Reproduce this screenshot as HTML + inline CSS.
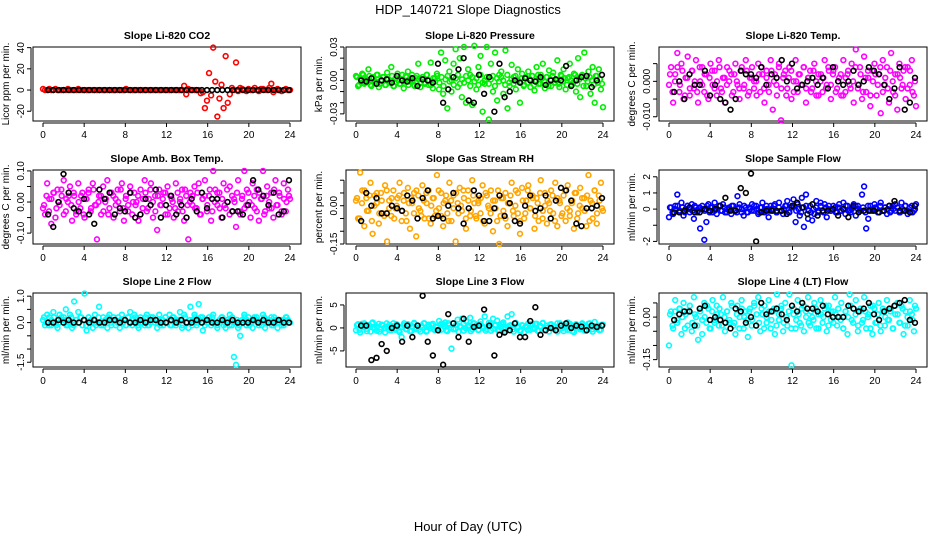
<!DOCTYPE html>
<html><head><meta charset="utf-8"><style>
body{margin:0;background:#fff}
svg{display:block;font-family:"Liberation Sans",sans-serif}
</style></head><body>
<svg id="c" width="936" height="540" viewBox="0 0 936 540">
<text x="468" y="14" text-anchor="middle" font-size="13">HDP_140721  Slope Diagnostics</text>
<text x="468" y="531" text-anchor="middle" font-size="13">Hour of Day (UTC)</text>
</svg>
<script>
const titles=["Slope Li-820 CO2","Slope Li-820 Pressure","Slope Li-820 Temp.","Slope Amb. Box Temp.","Slope Gas Stream RH","Slope Sample Flow","Slope Line 2 Flow","Slope Line 3 Flow","Slope Line 4 (LT) Flow"];
const yTitles=["Licor ppm per min.","kPa per min.","degrees C per min.","degrees C per min.","percent per min.","ml/min per min.","ml/min per min.","ml/min per min.","ml/min per min."];
const colors=["#ff0000","#00ee00","#ff00ff","#ff00ff","#ffa500","#0000ff","#00ffff","#00ffff","#00ffff"];
const xTicks=[0,4,8,12,16,20,24];
const c1=[1,0,0,1,0,0,1,0,0,0,0,0,1,0,0,0,0,1,0,0,0,0,0,0,0,0,0,0,0,0,0,0,0,0,0,0,0,0,0,0,1,0,0,0,0,0,0,0,0,0,0,0,0,0,0,0,0,0,0,0,0,0,0,0,0,0,0,0,4,-4,1,0,0,0,0,0,-3,-2,-17,-10,16,-5,40,8,-25,-8,5,-17,32,-12,-4,2,0,26,-1,2,1,0,-1,1,0,0,2,0,-1,1,1,0,0,2,6,-2,0,1,0,-1,0,1,0,0];
const b1=[0,0,0,0,0,0,0,0,0,0,0,0,0,0,0,0,0,0,0,0,0,0,0,0,0,0,0,0,0,0,0,0,0,0,0,0,0,0,0,0,0,0,0,0,0,0,0,0];
const k1=[];
const c2=[4,-5,2,6,-3,1,10,-4,3,-2,5,-6,0,3,-4,7,-2,12,-5,2,6,-3,1,-7,4,8,-1,5,-4,2,15,-6,3,-2,5,-4,16,-7,2,6,-8,25,-12,18,-25,8,-10,15,28,-6,20,-15,30,-20,10,5,-22,31,-8,12,22,-28,-3,30,-35,15,-10,25,-18,5,8,-12,27,-25,-5,14,3,-8,10,-20,6,-4,2,8,-6,4,-9,12,-3,5,15,-7,3,9,-5,7,-2,18,-6,4,10,-8,2,15,-4,6,-10,20,-15,5,25,-5,8,-12,12,-20,4,10,-8,-24];
const b2=[0,-1,2,-3,0,1,-2,4,0,-1,2,-5,1,0,-2,15,-20,-8,3,10,20,-18,-20,5,-12,3,-28,15,-15,-10,0,-2,2,0,-1,3,-4,0,1,0,13,-5,0,3,4,-6,0,5];
const k2=[3,-4,1,5,-2,0,4,-5,2,-1,5,-3,0,3,-4,1,-2,4,-5,2,0,-3,5,-1,3,-4,2,0,-5,4,1,-2,3,-3,5,0,-4,2,-1,4,-2,3,-5,1,4,-1,0,-4,2,5,-3,1,-2,4,0,-5,3,-1,2,-4,5,-2,0,3,-3,1,4,-5,2,-1,3,0,-4,5,-2,1,-3,4,0,-1,2,-5,3,-2,1,4,-4,0,5,-3,2,-1,3,-5,1,4,-2,0,-3,5,-1,2,-4,3,0,-2,5,-3,1,4,-5,2,-1,3,0,-4,4,-2,1,-3];
const c3=[-1,4,-6,2,8,-3,5,-5,1,7,-4,3,-2,6,-6,0,4,-3,2,-5,5,-1,3,-4,6,-2,1,-6,4,0,2,-3,5,-1,-5,3,-2,6,-4,1,4,-2,0,5,-3,2,-6,3,-1,6,-8,2,-4,5,-11,1,3,-2,4,-5,0,6,-3,2,-1,4,-6,1,3,-2,5,-4,2,0,-3,6,-1,3,-5,2,4,-2,1,-4,6,-3,2,-1,5,-6,9,-2,4,-5,7,-3,1,-7,3,5,-4,2,-9,6,-1,4,-6,8,-3,2,-8,5,-2,3,-5,4,-1,6,-4,-7];
const b3=[-3,0,-5,2,-1,-1,3,-4,-1,-5,-6,-8,-5,3,2,2,1,4,-1,2,1,6,0,5,-2,-1,0,1,-1,1,-2,4,0,-1,0,3,-1,0,4,3,2,-1,-5,-2,4,-8,-6,1];
const k3=[2,-3,0,4,-1,3,-4,1,-2,3,0,-3,4,-1,2,-4,1,3,-2,0,4,-3,1,-1,3,-4,2,0,-2,4,-1,3,-3,1,0,-4,2,4,-2,1,-3,3,0,-1,4,-2,2,-4,1,3,-3,0,2,-1,4,-2,1,-3,3,0,-4,2,1,-2,4,-1,3,-3,0,2,-4,1,3,-2,0,4,-1,2,-3,1,3,-4,0,2,-1,4,-3,1,-2,3,0,-4,2,1,-1,4,-2,3,-3,0];
const c4=[-2,-4,6,1,-7,3,-5,4,-1,2,7,-3,0,5,-6,2,-4,6,-2,3,-5,1,4,-3,6,-1,-12,2,-4,5,0,7,-2,3,-5,1,4,-3,6,-6,2,-1,5,-4,3,0,-6,4,-2,7,-3,1,6,-5,2,-9,4,-1,3,-4,5,-2,1,-5,6,-3,0,4,-6,2,-12,3,-1,5,-2,6,-4,1,7,-3,2,-6,10,4,-1,3,-5,6,-2,0,5,-3,1,-8,7,-4,2,10,-1,3,-5,6,-2,4,-6,1,10,-3,5,-2,3,-5,7,-1,2,-4,6,-3,4,1];
const b4=[-4,-8,0,9,3,-2,-3,1,-4,-7,4,1,3,-4,-2,-3,3,-5,-4,1,-1,4,-5,-1,2,-4,-1,-5,1,-3,3,-2,1,1,-5,0,-3,-3,-4,-1,7,4,2,-1,3,-4,-3,7];
const k4=[-1,2,-3,1,3,-2,0,4,-4,1,2,-1,3,-3,0,2,-4,1,3,-2,4,-1,0,2,-3,1,-4,3,2,-1,0,4,-2,1,-3,3,0,-1,2,-4,1,3,-2,4,0,-3,2,-1,1,3,-4,2,0,-2,3,1,-3,4,-1,0,2,-2,3,-4,1,2,-1,4,-3,0,3,-2,1,-1,4,-4,2,0,3,-3,1,-2,4,0,-1,2,-3,3,1,-4,2,0,-2,4,-1,3,-3,1,0,2];
const c5=[2,-5,13,6,-8,3,-2,9,-11,4,1,-7,5,-3,8,-14,2,-4,6,-1,3,9,-6,2,-3,7,-9,1,5,-12,4,-2,8,-5,1,6,-7,3,-4,12,-1,5,-8,2,-3,9,-6,4,-14,1,7,-2,3,-9,6,-4,10,1,-5,2,-3,8,-7,4,-1,6,-10,2,-6,-15,3,-2,5,-8,1,9,-4,6,-3,-11,7,-5,2,8,-1,4,-9,3,-6,10,-2,5,-7,1,6,-3,9,-8,2,-4,4,-6,8,-2,1,-9,5,-3,7,-1,3,-8,12,2,-5,6,-7,4,9,-2];
const b5=[-6,5,0,3,-3,-3,0,-1,-2,4,2,-5,3,6,-5,-4,-5,0,5,-1,-7,-1,6,4,-6,-6,-1,4,-4,1,-6,-7,0,4,-2,-1,4,-5,2,7,6,2,-7,-8,-1,-1,0,3];
const k5=[3,-5,1,6,-2,4,-6,0,5,-3,2,-4,6,-1,3,-5,0,4,-2,5,-6,1,3,-3,6,-1,-4,2,5,-5,0,3,-2,6,-4,1,4,-6,2,-1,5,-3,0,6,-5,2,-2,4,-4,1,3,-6,5,0,-3,2,-1,6,-4,3,-5,1,4,-2,0,5,-6,2,-3,6,-1,3,-4,1,5,-5,0,2,-2,4,-6,3,1,-3,6,-1,-4,2,5,-5,0,3,-2,4,-6,1,6,-3,2,-1];
const c6=[-5,1,-3,2,9,-1,4,-4,0,2,-2,3,-6,1,-1,-12,2,-19,-8,3,1,-2,4,-3,2,-1,3,-2,0,1,-3,2,-1,8,3,-2,-4,1,-2,0,3,-1,2,-3,1,4,-2,0,-5,2,-1,3,-2,4,-1,-3,2,5,-2,1,6,-8,3,-4,7,-11,9,-6,2,-7,-3,5,-2,4,-1,3,-5,2,-1,0,1,-2,3,-1,4,-3,2,-1,0,3,-4,2,-1,9,14,-12,-6,2,-1,3,0,-2,4,-1,1,-3,2,-1,0,3,1,-2,4,-1,2,-3,1,2,-1,3];
const b6=[-2,-2,-1,1,-2,-2,0,-1,0,2,7,-1,-1,13,10,22,-20,-2,-1,-1,-1,-1,-3,2,4,1,-3,3,-4,-1,-1,0,-4,0,-5,2,-2,-1,-1,-1,-2,-1,2,5,-1,-1,-2,2];
const k6=[1,-2,0,2,-1,1,-2,2,0,-1,2,-2,1,0,-1,2,-2,1,-1,0,2,-1,1,-2,0,2,-1,-2,1,0,2,-2,1,-1,2,0,-2,1,-1,2,-1,0,2,-2,1,-1,0,2,-2,1,2,-1,0,-2,1,2,-1,-2,0,1,-1,2,-2,1,0,-1,2,-2,1,-1,0,2,-1,-2,1,2,0,-1,1,-2,2,-1,0,1,-2,2,-1,1,0,-2,2,-1,1,-2,0,2,-1,1,-2,0];
const c7=[1,-1,3,2,-1,4,0,-2,3,1,2,5,-1,3,-2,8,1,4,2,-1,11,-3,2,1,-2,3,0,6,-1,2,1,-2,3,-1,2,1,0,-2,3,1,-1,2,4,-1,3,1,-2,2,0,-1,3,-1,2,1,0,-2,3,1,-1,2,0,3,-1,2,-1,1,4,-2,3,0,-2,6,1,3,-1,7,2,-3,1,0,2,-1,3,0,-2,1,2,-1,-2,1,3,-1,-13,-16,-2,-5,1,3,-1,2,0,-2,1,2,-1,0,3,-2,1,0,2,-1,1,-2,0,1,-1,2,1,0];
const b7=[0,0,1,0,1,0,0,1,0,1,0,0,1,1,0,1,0,0,1,0,1,1,0,0,1,0,1,0,0,1,0,1,0,0,1,0,1,0,0,0,1,0,1,0,0,1,0,0];
const k7=[2,0,-1,1,2,-1,0,2,1,-1,0,2,-1,1,0,2,1,-1,2,0,1,-1,2,0,-1,1,2,0,1,-1,2,1,0,-1,2,0,1,2,-1,0,1,2,-1,0,2,1,0,-1,1,2,0,-1,2,1,0,1,-1,2,0,1,-1,2,0,1,2,-1,0,1,2,0,-1,1,2,0,1,-1,2,0,1,-1,0,2,1,-1,0,2,1,0,-1,2,0,1,-1,2,1,0,-1,1,2,0];
const c8=[-0.5,0.8,-1,0.3,1,-0.2,0.6,-0.8,1.2,0,-0.6,0.9,-0.3,0.5,-1,0.2,0.7,-0.5,1,-0.4,0.3,-0.9,-2,0.6,-0.2,0.8,-0.7,0.4,1.1,-0.3,0.5,-0.8,0.2,1,-0.6,0.7,-0.1,0.9,-0.5,0.3,1.5,-0.4,0.8,1.2,-0.7,0.6,-4.5,1,-0.2,1.8,0.4,2,-0.6,1.5,0.2,2.2,-0.3,1,0.6,-0.5,1.4,0.3,2.5,-0.2,1.1,-0.6,2,0.5,1.6,-0.4,0.8,1.2,-0.3,2.5,0.5,3,-0.8,1.1,0.2,-0.5,0.6,-0.9,0.3,1,-0.4,0.7,-0.2,0.9,-0.6,0.4,1.1,-0.3,0.5,-0.8,0.8,0.2,-0.5,1,-0.1,0.6,-0.7,0.3,1.2,-0.4,0.5,-0.9,0.8,0.1,-0.3,1,0.4,-0.6,0.9,0.2,-0.8,1.3,-0.2,0.5,-0.4,0.7];
const b8=[0.5,0.5,-7,-6.5,-3.5,-5,0,0.5,-3,0.5,-2,0.5,7,-3,-6,-0.5,-8,3,1,-2,2,-3,0.2,0.5,4,0.5,-6,-1.5,-1,-0.5,1,-2,-2,1.5,4.5,-1.5,-0.5,0,-0.5,0.5,1,0,0.5,0.3,-0.5,0.5,0.2,0.5];
const k8=[0.6,-0.4,0.9,0.1,-0.7,0.5,1,-0.2,0.3,-0.8,0.7,0,1,-0.5,0.4,-0.1,0.8,-0.6,0.2,1,-0.3,0.6,-0.7,0.9,0,-0.4,0.5,1,-0.8,0.3,0.7,-0.2,0.1,-0.6,0.9,0.4,-0.5,1,0,-0.3,0.6,-0.8,0.2,0.9,-0.1,0.5,-0.7,1,0.3,-0.4,0.8,0,-0.6,0.4,1,-0.2,0.7,-0.5,0.1,0.9,-0.8,0.3,0.6,-0.3,1,0,-0.7,0.5,0.2,-0.4,0.8,-0.1,0.9,-0.6,0.4,1,-0.5,0.1,0.7,-0.2,0.3,-0.8,1,0,0.6,-0.4,0.9,-0.7,0.2,0.5,-0.1,0.8,-0.6,0.3,1,-0.3,0.4,0,-0.5,0.7];
const c9=[-10,2,-4,6,-2,3,-6,5,1,-3,4,-5,7,0,-8,2,-6,5,-2,3,-4,6,-1,4,-3,1,7,-5,2,-2,5,-3,-6,4,0,6,-4,2,-7,3,-1,5,-3,7,-5,1,4,-2,6,-4,2,-6,8,-1,3,-5,5,-3,8,-17,1,-4,6,-2,3,-5,2,7,-3,0,5,-4,1,6,-2,3,-5,4,-1,2,7,-3,0,5,-4,2,-6,8,-1,3,6,-5,2,-2,7,-4,1,4,-6,3,-2,5,-5,2,-3,6,-1,3,-4,1,5,-2,4,-6,2,-3,6,1,-5,3];
const b9=[-1,1,2,2,-3,3,4,-1,0,-1,-2,-4,3,2,-2,0,-3,5,1,2,3,1,-1,4,2,5,3,3,2,4,1,0,0,0,4,3,2,3,5,1,-1,2,3,4,5,6,-1,-2];
const k9=[1,-3,2,-1,3,0,-4,2,4,-2,1,-3,3,-1,0,4,-4,2,-2,1,3,-3,0,2,-1,4,-2,1,-4,3,0,-1,2,-3,4,1,-2,3,-4,0,2,-1,3,-3,1,4,-2,0,2,-4,3,-1,1,-3,4,0,-2,2,-1,3,-4,1,0,4,-3,2,-2,1,3,-1,-4,2,0,4,-2,1,-3,3,-1,2,0,-4,4,-2,1,-3,3,0,-1,2,-4,4,1,-2,3,-3,0,2,-1,4];
const colorSeries=[c1,c2,c3,c4,c5,c6,c7,c8,c9];
const coreSeries=[k1,k2,k3,k4,k5,k6,k7,k8,k9];
const blackSeries=[b1,b2,b3,b4,b5,b6,b7,b8,b9];
const unitScale=[1,0.001,0.001,0.01,0.01,0.1,0.1,1,0.01];
const yDomains=[[-29.2,40.6],[-0.0364,0.030],[-0.0112,0.0097],[-0.135,0.103],[-0.15,0.14],[-2.16,2.42],[-1.68,1.12],[-8.5,7.6],[-0.176,0.085]];
const yTickVals=[[-20,0,20,40],[-0.03,-0.02,-0.01,0,0.01,0.02,0.03],[-0.01,-0.005,0,0.005],[-0.1,-0.05,0,0.05,0.1],[-0.15,-0.1,-0.05,0,0.05,0.1],[-2,-1,0,1,2],[-1.5,-1,-0.5,0,0.5,1],[-5,0,5],[-0.15,-0.1,-0.05,0,0.05]];
const yTickLabels=[["-20","0","20","40"],["-0.03","","","0.00","","","0.03"],["-0.010","","0.000",""],["-0.10","","0.00","","0.10"],["-0.15","","","0.00","",""],["-2","","0","1","2"],["-1.5","","","0.0","","1.0"],["-5","0","5"],["-0.15","","","0.00",""]];

const svg=document.getElementById('c');
const NS="http://www.w3.org/2000/svg";
function mk(tag,attrs,parent){const e=document.createElementNS(NS,tag);for(const k in attrs)e.setAttribute(k,attrs[k]);(parent||svg).appendChild(e);return e;}
const W=268,H=74,tops=[47,170,293];
for(let p=0;p<9;p++){
  const col=p%3,row=Math.floor(p/3);
  const L=33+313*col,T=tops[row];
  const g=mk('g',{});
  
  
  const [ymin,ymax]=yDomains[p];
  const xs=h=>L+10+h*(247/24);
  const ys=v=>T+H-(v-ymin)/(ymax-ymin)*H;
  const t=mk('text',{x:L+W/2,y:T-8,'text-anchor':'middle','font-size':'10.5','font-weight':'bold'},g);
  t.textContent=titles[p];
  
  
  const yt=mk('text',{x:0,y:0,'text-anchor':'middle','font-size':'10',transform:`translate(${L-24},${T+H/2}) rotate(-90)`},g);
  yt.textContent=yTitles[p];
  
  
  const ax=mk('g',{},g);
  
  
  mk('line',{x1:xs(0),x2:xs(24),y1:T+H+2,y2:T+H+2,stroke:'#000','stroke-width':1},ax);
  xTicks.forEach(h=>{
    mk('line',{x1:xs(h),x2:xs(h),y1:T+H+2,y2:T+H+6,stroke:'#000','stroke-width':1},ax);
    const tl=mk('text',{x:xs(h),y:T+H+17,'text-anchor':'middle','font-size':'10'},ax);
    tl.textContent=String(h);
    
    
  });
  const ay=mk('g',{},g);
  
  
  const tv=yTickVals[p];
  mk('line',{x1:L-2,x2:L-2,y1:ys(tv[0]),y2:ys(tv[tv.length-1]),stroke:'#000','stroke-width':1},ay);
  tv.forEach((v,i)=>{
    mk('line',{x1:L-6,x2:L-2,y1:ys(v),y2:ys(v),stroke:'#000','stroke-width':1},ay);
    if(yTickLabels[p][i]){
      const tl=mk('text',{x:0,y:0,'text-anchor':'middle','font-size':'10',transform:`translate(${L-9},${ys(v)}) rotate(-90)`},ay);
      tl.textContent=yTickLabels[p][i];
      
      
    }
  });
  const box=mk('rect',{x:L,y:T,width:W,height:H,fill:'none',stroke:'#000','stroke-width':1},g);
  
  
  const cs=colorSeries[p],n=cs.length;
  cs.forEach((v,i)=>{
    const c=mk('circle',{cx:xs(i*24/(n-1)),cy:ys(v*unitScale[p]),r:2.4,fill:'none',stroke:colors[p],'stroke-width':1.6},g);
    
    
  });
  const ks=coreSeries[p],kn=ks.length;
  ks.forEach((v,i)=>{
    const c=mk('circle',{cx:xs(0.1+i*23.8/(kn-1)),cy:ys(v*unitScale[p]),r:2.4,fill:'none',stroke:colors[p],'stroke-width':1.6},g);
    
    
  });
  const bs=blackSeries[p],m=bs.length;
  bs.forEach((v,i)=>{
    const c=mk('circle',{cx:xs(0.5+i*23.4/(m-1)),cy:ys(v*unitScale[p]),r:2.4,fill:'none',stroke:'#000','stroke-width':1.6},g);
    
    
  });
}
</script>
</body></html>
